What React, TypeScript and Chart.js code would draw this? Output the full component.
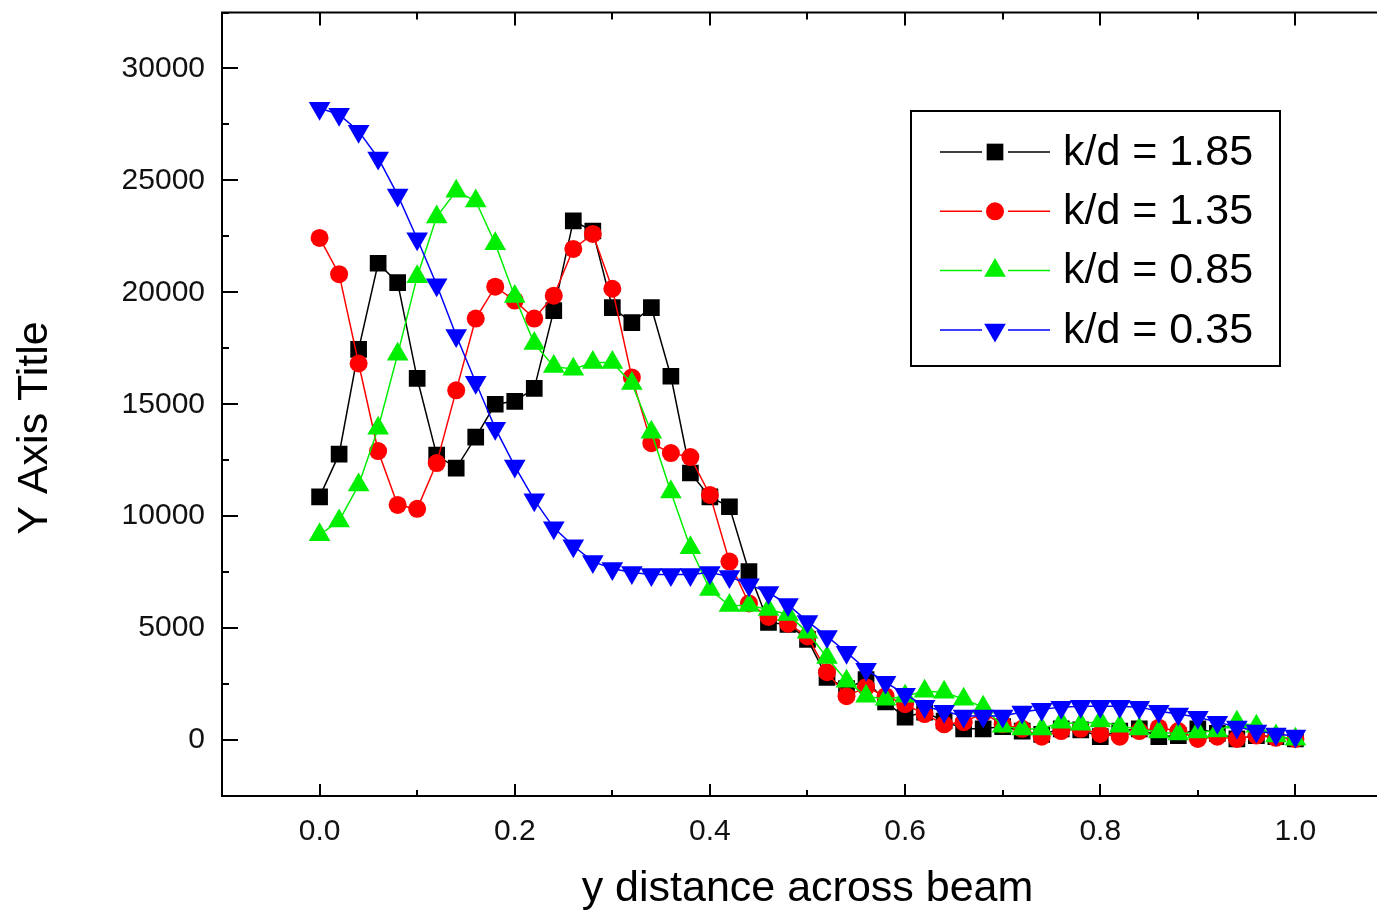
import React, { useEffect, useRef } from "react";
import { Chart, registerables } from "chart.js";
import { drawPoint } from "chart.js/helpers";

Chart.register(...registerables);

const X_VALUES = [
  0.0, 0.02, 0.04, 0.06, 0.08, 0.1, 0.12, 0.14, 0.16, 0.18, 0.2, 0.22, 0.24, 0.26, 0.28, 0.3, 0.32, 0.34, 0.36,
  0.38, 0.4, 0.42, 0.44, 0.46, 0.48, 0.5, 0.52, 0.54, 0.56, 0.58, 0.6, 0.62, 0.64, 0.66, 0.68, 0.7, 0.72, 0.74,
  0.76, 0.78, 0.8, 0.82, 0.84, 0.86, 0.88, 0.9, 0.92, 0.94, 0.96, 0.98, 1.0,
];

const KD_185 = [
  10860, 12770, 17450, 21300, 20430, 16160, 12730, 12150, 13530, 15000, 15130, 15710, 19180, 23190, 22740, 19320,
  18650, 19320, 16250, 11930, 10860, 10420, 7520, 5250, 5160, 4500, 2800, 2300, 2700, 1700, 1020, 1250, 850, 500,
  500, 600, 400, 250, 500, 450, 150, 400, 500, 150, 200, 500, 300, 50, 200, 150, 50,
];

const KD_135 = [
  22430, 20810, 16820, 12910, 10500, 10330, 12370, 15620, 18830, 20250, 19630, 18830, 19850, 21940, 22610, 20160,
  16200, 13260, 12820, 12640, 10950, 7970, 6100, 5500, 5200, 4630, 3030, 1960, 2360, 1960, 1600, 1160, 700, 800,
  1200, 700, 500, 150, 400, 500, 270, 150, 400, 550, 400, 50, 150, 50, 200, 100, 50,
];

const KD_085 = [
  9170, 9790, 11390, 13930, 17230, 20700, 23370, 24520, 24080, 22170, 19810, 17710, 16690, 16560, 16870, 16870,
  15930, 13750, 11080, 8590, 6720, 6010, 6010, 5830, 5610, 4810, 3690, 2630, 1960, 1820, 1960, 2180, 2140, 1820,
  1470, 620, 490, 490, 800, 710, 850, 620, 490, 360, 270, 360, 400, 800, 620, 180, 40,
];

const KD_035 = [
  28220, 27950, 27200, 26000, 24350, 22390, 20340, 18070, 15980, 13930, 12240, 10730, 9480, 8680, 7970, 7660,
  7480, 7390, 7390, 7390, 7480, 7300, 6940, 6590, 6050, 5300, 4630, 3920, 3160, 2580, 2050, 1510, 1290, 1070,
  1070, 1070, 1250, 1380, 1470, 1510, 1510, 1510, 1470, 1290, 1160, 1020, 800, 580, 400, 270, 180,
];

const SERIES_LABELS = ["k/d = 1.85", "k/d = 1.35", "k/d = 0.85", "k/d = 0.35"];
const X_TICKS = [0.0, 0.2, 0.4, 0.6, 0.8, 1.0];
const X_MINOR_TICKS = [-0.1, 0.1, 0.3, 0.5, 0.7, 0.9, 1.1];
const Y_TICKS = [0, 5000, 10000, 15000, 20000, 25000, 30000];
const Y_MINOR_TICKS = [-2500, 2500, 7500, 12500, 17500, 22500, 27500, 32500];
const X_TITLE = "y distance across beam";
const Y_TITLE = "Y Axis Title";

const FONT = "'Liberation Sans', Arial, Helvetica, sans-serif";

const framePlugin = {
  id: "originFrame",
  beforeDatasetsDraw(chart: any) {
    const { ctx, chartArea, scales } = chart;
    const { left, right, top, bottom } = chartArea;
    const x = scales.x;
    const y = scales.y;
    ctx.save();
    ctx.strokeStyle = "#000";
    ctx.lineWidth = 2;
    ctx.strokeRect(left, top, right - left, bottom - top);
    ctx.beginPath();
    const xt = (v: number, lb: number, lt: number) => {
      const px = Math.round(x.getPixelForValue(v));
      ctx.moveTo(px, bottom);
      ctx.lineTo(px, bottom - lb);
      ctx.moveTo(px, top);
      ctx.lineTo(px, top + lt);
    };
    X_TICKS.forEach((v) => xt(v, 12, 13));
    X_MINOR_TICKS.forEach((v) => xt(v, 6, 7));
    const yt = (v: number, len: number) => {
      const py = Math.round(y.getPixelForValue(v));
      ctx.moveTo(left, py);
      ctx.lineTo(left + len, py);
      ctx.moveTo(right, py);
      ctx.lineTo(right - len, py);
    };
    Y_TICKS.forEach((v) => yt(v, 16));
    Y_MINOR_TICKS.forEach((v) => yt(v, 7));
    ctx.stroke();
    ctx.restore();
  },
};

const overlayPlugin = {
  id: "originOverlay",
  afterDraw(chart: any) {
    const ctx = chart.ctx;
    ctx.save();
    // Y axis title
    ctx.translate(35, 428);
    ctx.rotate(-Math.PI / 2);
    ctx.font = `43px ${FONT}`;
    ctx.fillStyle = "#000";
    ctx.textAlign = "center";
    ctx.textBaseline = "middle";
    ctx.fillText(Y_TITLE, 0, 0);
    ctx.restore();

    // Legend box
    ctx.save();
    ctx.fillStyle = "#fff";
    ctx.fillRect(911, 111, 369, 255);
    ctx.strokeStyle = "#000";
    ctx.lineWidth = 2;
    ctx.strokeRect(911, 111, 369, 255);
    chart.data.datasets.forEach((ds: any, i: number) => {
      const yy = 152 + i * 59.3;
      ctx.strokeStyle = ds.borderColor;
      ctx.lineWidth = 1.5;
      ctx.beginPath();
      ctx.moveTo(940, yy);
      ctx.lineTo(982, yy);
      ctx.moveTo(1008, yy);
      ctx.lineTo(1050, yy);
      ctx.stroke();
      ctx.fillStyle = ds.pointBackgroundColor;
      ctx.strokeStyle = ds.pointBackgroundColor;
      drawPoint(
        ctx,
        { pointStyle: ds.pointStyle, radius: ds.pointRadius, rotation: ds.pointRotation || 0, borderWidth: 0 },
        995,
        yy
      );
      ctx.fillStyle = "#000";
      ctx.font = `43px ${FONT}`;
      ctx.textAlign = "left";
      ctx.textBaseline = "middle";
      ctx.fillText(ds.label, 1063, yy + 1);
    });
    ctx.restore();
  },
};

function series(values: number[]) {
  return X_VALUES.map((x, i) => ({ x, y: values[i] }));
}

export default function App() {
  const ref = useRef<HTMLCanvasElement>(null);
  useEffect(() => {
    if (!ref.current) return;
    const mk = (
      label: string,
      values: number[],
      color: string,
      pointStyle: string,
      radius: number,
      rotation: number,
      order: number
    ) => ({
      label,
      data: series(values),
      borderColor: color,
      backgroundColor: color,
      borderWidth: 1.5,
      pointStyle,
      pointRadius: radius,
      pointRotation: rotation,
      pointBackgroundColor: color,
      pointBorderColor: color,
      pointBorderWidth: 0,
      tension: 0,
      order,
    });
    const chart = new Chart(ref.current, {
      type: "line",
      data: {
        datasets: [
          mk(SERIES_LABELS[0], KD_185, "#000000", "rect", 11.8, 0, 4),
          mk(SERIES_LABELS[1], KD_135, "#ff0000", "circle", 9, 0, 3),
          mk(SERIES_LABELS[2], KD_085, "#00ee00", "triangle", 12.5, 0, 2),
          mk(SERIES_LABELS[3], KD_035, "#0000ff", "triangle", 12.5, 180, 1),
        ] as any,
      },
      options: {
        responsive: false,
        animation: false,
        events: [],
        layout: { padding: { top: 12, right: 27, left: 0, bottom: 0 } },
        plugins: {
          legend: { display: false },
          tooltip: { enabled: false },
        },
        scales: {
          x: {
            type: "linear",
            min: -0.1,
            max: 1.1,
            grid: { display: false, drawTicks: false },
            border: { display: false },
            afterBuildTicks: (scale: any) => {
              scale.ticks = X_TICKS.map((v) => ({ value: v }));
            },
            afterFit: (scale: any) => {
              scale.height = 116;
              scale.paddingLeft = 0;
              scale.paddingRight = 0;
            },
            ticks: {
              autoSkip: false,
              maxRotation: 0,
              padding: 18,
              color: "#111",
              font: { family: FONT, size: 30 },
              callback: (v: any) => Number(v).toFixed(1),
            },
            title: {
              display: true,
              text: X_TITLE,
              color: "#000",
              font: { family: FONT, size: 43, lineHeight: 1 },
              padding: { top: 0, bottom: 1 },
            },
          },
          y: {
            type: "linear",
            min: -2500,
            max: 32500,
            grid: { display: false, drawTicks: false },
            border: { display: false },
            afterBuildTicks: (scale: any) => {
              scale.ticks = Y_TICKS.map((v) => ({ value: v }));
            },
            afterFit: (scale: any) => {
              scale.width = 222;
              scale.paddingTop = 0;
              scale.paddingBottom = 0;
            },
            ticks: {
              autoSkip: false,
              padding: 17,
              color: "#111",
              font: { family: FONT, size: 30 },
              callback: (v: any) => String(v),
            },
          },
        },
      },
      plugins: [framePlugin, overlayPlugin],
    } as any);
    return () => chart.destroy();
  }, []);
  return (
    <div
      style={{
        position: "fixed",
        left: 0,
        top: 0,
        width: 1377,
        height: 912,
        overflow: "hidden",
        background: "#fff",
      }}
    >
      <canvas ref={ref} width={1420} height={912} style={{ display: "block", width: 1420, height: 912 }} />
    </div>
  );
}
